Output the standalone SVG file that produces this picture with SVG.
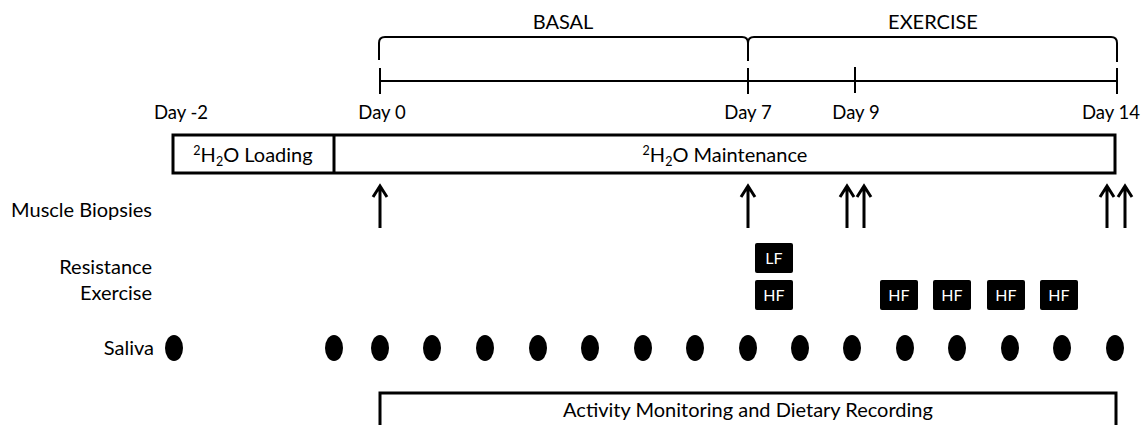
<svg xmlns="http://www.w3.org/2000/svg" width="1143" height="425" viewBox="0 0 1143 425">
<style>
text{font-family:Lato,"Liberation Sans",sans-serif;font-size:20px;fill:#000}
.c{text-anchor:middle}
.r{text-anchor:end}
.d{font-size:18.5px}
.ln{stroke:#000;stroke-width:2;fill:none}
.bx{stroke:#000;stroke-width:3;fill:#fff}
.arr{stroke:#000;stroke-width:3;fill:none;stroke-linecap:butt}
.blk{fill:#000}
.wt{fill:#fff;font-size:16px;text-anchor:middle}
.sup{font-size:12.5px}
</style>
<g id="phases">
<path class="ln" d="M379,60 L379,43 Q379,37 385,37 L742,37 Q748,37 748,43 L748,61 M748,43 Q748,37 754,37 L1111,37 Q1117,37 1117,43 L1117,62"/>
<text class="c" x="563" y="29">BASAL</text>
<text class="c" x="933" y="29">EXERCISE</text>
</g>
<g id="timeline">
<path class="ln" d="M380,81 L1117,81 M380,68 L380,94 M748,68 L748,94 M855,67 L855,93 M1117,68 L1117,94"/>
<text class="c d" x="181" y="119">Day -2</text>
<text class="c d" x="382" y="119">Day 0</text>
<text class="c d" x="748" y="119">Day 7</text>
<text class="c d" x="856" y="119">Day 9</text>
<text class="c d" x="1111" y="119">Day 14</text>
</g>
<g id="water">
<rect class="bx" x="173" y="135" width="942" height="38"/>
<line class="ln" x1="334" y1="135" x2="334" y2="173" style="stroke-width:3"/>
<text class="c" x="253" y="162"><tspan class="sup" dy="-7">2</tspan><tspan dy="7">H</tspan><tspan class="sup" dy="4">2</tspan><tspan dy="-4">O Loading</tspan></text>
<text class="c" x="725" y="162"><tspan class="sup" dy="-7">2</tspan><tspan dy="7">H</tspan><tspan class="sup" dy="4">2</tspan><tspan dy="-4">O Maintenance</tspan></text>
</g>
<g id="biopsies">
<text class="r" x="152" y="217">Muscle Biopsies</text>
<path class="arr" d="M380,228 V186 M373,197 L380,186 L387,197"/>
<path class="arr" d="M748,228 V186 M741,197 L748,186 L755,197"/>
<path class="arr" d="M847,228 V186 M840,197 L847,186 L854,197"/>
<path class="arr" d="M864,228 V186 M857,197 L864,186 L871,197"/>
<path class="arr" d="M1107,228 V186 M1100,197 L1107,186 L1114,197"/>
<path class="arr" d="M1125,228 V186 M1118,197 L1125,186 L1132,197"/>
</g>
<g id="resistance">
<text class="r" x="152" y="274">Resistance</text>
<text class="r" x="152" y="300">Exercise</text>
<rect class="blk" x="755" y="243" width="38" height="30" rx="2"/>
<text class="wt" x="774" y="264">LF</text>
<rect class="blk" x="755" y="280" width="38" height="30" rx="2"/>
<text class="wt" x="774" y="301">HF</text>
<rect class="blk" x="880" y="280" width="38" height="30" rx="2"/>
<text class="wt" x="899" y="301">HF</text>
<rect class="blk" x="933" y="280" width="38" height="30" rx="2"/>
<text class="wt" x="952" y="301">HF</text>
<rect class="blk" x="987" y="280" width="38" height="30" rx="2"/>
<text class="wt" x="1006" y="301">HF</text>
<rect class="blk" x="1040" y="280" width="38" height="30" rx="2"/>
<text class="wt" x="1059" y="301">HF</text>
</g>
<g id="saliva">
<text class="r" x="154" y="355">Saliva</text>
<ellipse cx="174" cy="348" rx="9" ry="13"/>
<ellipse cx="334" cy="348" rx="9" ry="13"/>
<ellipse cx="380" cy="348" rx="9" ry="13"/>
<ellipse cx="432" cy="348" rx="9" ry="13"/>
<ellipse cx="485" cy="348" rx="9" ry="13"/>
<ellipse cx="538" cy="348" rx="9" ry="13"/>
<ellipse cx="590" cy="348" rx="9" ry="13"/>
<ellipse cx="643" cy="348" rx="9" ry="13"/>
<ellipse cx="695" cy="348" rx="9" ry="13"/>
<ellipse cx="748" cy="348" rx="9" ry="13"/>
<ellipse cx="800" cy="348" rx="9" ry="13"/>
<ellipse cx="852" cy="348" rx="9" ry="13"/>
<ellipse cx="905" cy="348" rx="9" ry="13"/>
<ellipse cx="957" cy="348" rx="9" ry="13"/>
<ellipse cx="1010" cy="348" rx="9" ry="13"/>
<ellipse cx="1062" cy="348" rx="9" ry="13"/>
<ellipse cx="1115" cy="348" rx="9" ry="13"/>
</g>
<g id="activity">
<path class="bx" d="M380,430 V393 H1116 V430"/>
<text class="c" x="748" y="417">Activity Monitoring and Dietary Recording</text>
</g>
</svg>
